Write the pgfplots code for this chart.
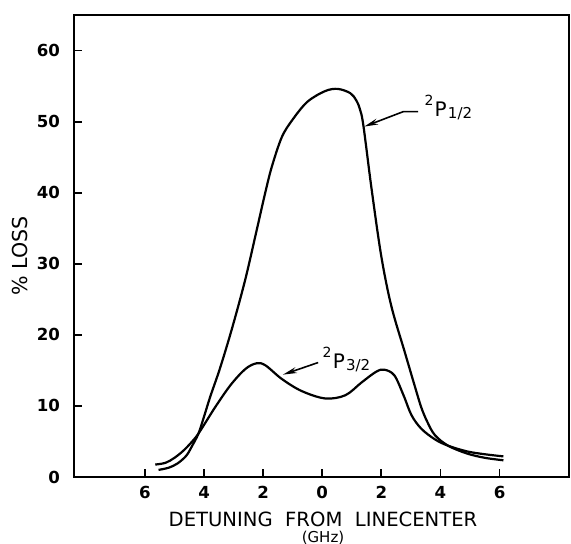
\documentclass[border=0pt]{standalone}
\usepackage{pgfplots}
\pgfplotsset{compat=1.18}
\usepackage{fontspec}
\setmainfont{DejaVu Sans}
\usetikzlibrary{arrows.meta}
\newcommand{\term}[1]{\raisebox{5.5pt}{\fontsize{7}{8}\selectfont 2}\hspace{0.6pt}{\fontsize{10}{12}\selectfont P}\hspace{0.6pt}\raisebox{-1pt}{\fontsize{7.5}{9}\selectfont #1}}
\begin{document}
\begin{tikzpicture}
\useasboundingbox (-37pt,-33.5pt) rectangle (248.5pt,238.5pt);
\begin{axis}[
  at={(0,0)}, anchor=south west,
  scale only axis, width=247.5pt, height=231pt,
  xmin=-8.4, xmax=8.35, ymin=0, ymax=65,
  xtick={-6,-4,-2,0,2,4,6}, xticklabels={6,4,2,0,2,4,6},
  ytick={0,10,...,60},
  tick pos=left, tick align=inside,
  major tick length=4pt,
  axis line style={line width=1pt},
  every tick/.style={line width=0.9pt, black},
  ticklabel style={font=\fontsize{8.3}{9}\selectfont\bfseries},
  /pgf/number format/assume math mode=true,
  yticklabel style={xshift=-3.5pt},
  xticklabel style={yshift=-1.2pt},
  clip=false,
]
% 2P1/2
\addplot[black, line width=1.1pt, smooth, tension=0.55] coordinates {
(-5.54,1.0) (-5.2,1.3) (-4.9,1.9) (-4.6,3.0) (-4.4,4.4) (-4.19,6.1)
(-4.0,8.5) (-3.79,11.3) (-3.46,15.3) (-3.06,20.8) (-2.61,27.7) (-2.22,34.7)
(-1.94,39.8) (-1.71,43.6) (-1.37,47.8) (-1.0,50.3) (-0.5,52.8) (0.1,54.3)
(0.53,54.6) (0.95,54.0) (1.15,53.0) (1.27,51.8) (1.39,49.5) (1.67,40.5)
(2.0,31.0) (2.34,24.0) (2.79,17.6) (3.13,12.8) (3.35,9.8) (3.55,7.8)
(3.81,5.9) (4.26,4.4) (4.9,3.3) (5.5,2.7) (6.13,2.35)
};
% 2P3/2
\addplot[black, line width=1.1pt, smooth, tension=0.55] coordinates {
(-5.65,1.75) (-5.3,2.0) (-5.0,2.7) (-4.7,3.7) (-4.4,5.0) (-4.19,6.1)
(-3.9,8.0) (-3.58,10.1) (-3.09,13.0) (-2.60,15.2) (-2.22,16.0) (-1.92,15.7)
(-1.37,13.8) (-0.70,12.1) (0.10,11.05) (0.78,11.5) (1.33,13.3) (1.82,14.8)
(2.10,15.1) (2.44,14.3) (2.75,11.5) (3.02,8.7) (3.35,6.8) (3.81,5.3)
(4.26,4.4) (4.9,3.6) (5.5,3.2) (6.13,2.9)
};
\draw[line width=0.8pt, -{Stealth[length=7pt,width=3pt]}] (axis cs:3.24,51.4) -- (axis cs:2.74,51.4) -- (axis cs:1.42,49.3);
\node[anchor=west, inner sep=0pt] at (axis cs:3.45,52.0) {\term{1/2}};
\draw[line width=0.8pt, -{Stealth[length=7pt,width=3pt]}] (axis cs:-0.14,16.1) -- (axis cs:-1.33,14.4);
\node[anchor=west, inner sep=0pt] at (axis cs:0.0,16.6) {\term{3/2}};
\end{axis}
\node[rotate=90] at (-26.75pt,110.5pt) {\fontsize{10.3}{12}\selectfont\%\ LOSS};
\node at (124.5pt,-21.35pt) {\fontsize{9.8}{12}\selectfont DETUNING\ \ FROM\ \ LINECENTER};
\node at (124.5pt,-30.5pt) {\fontsize{7.5}{9}\selectfont (GHz)};
\end{tikzpicture}
\end{document}
